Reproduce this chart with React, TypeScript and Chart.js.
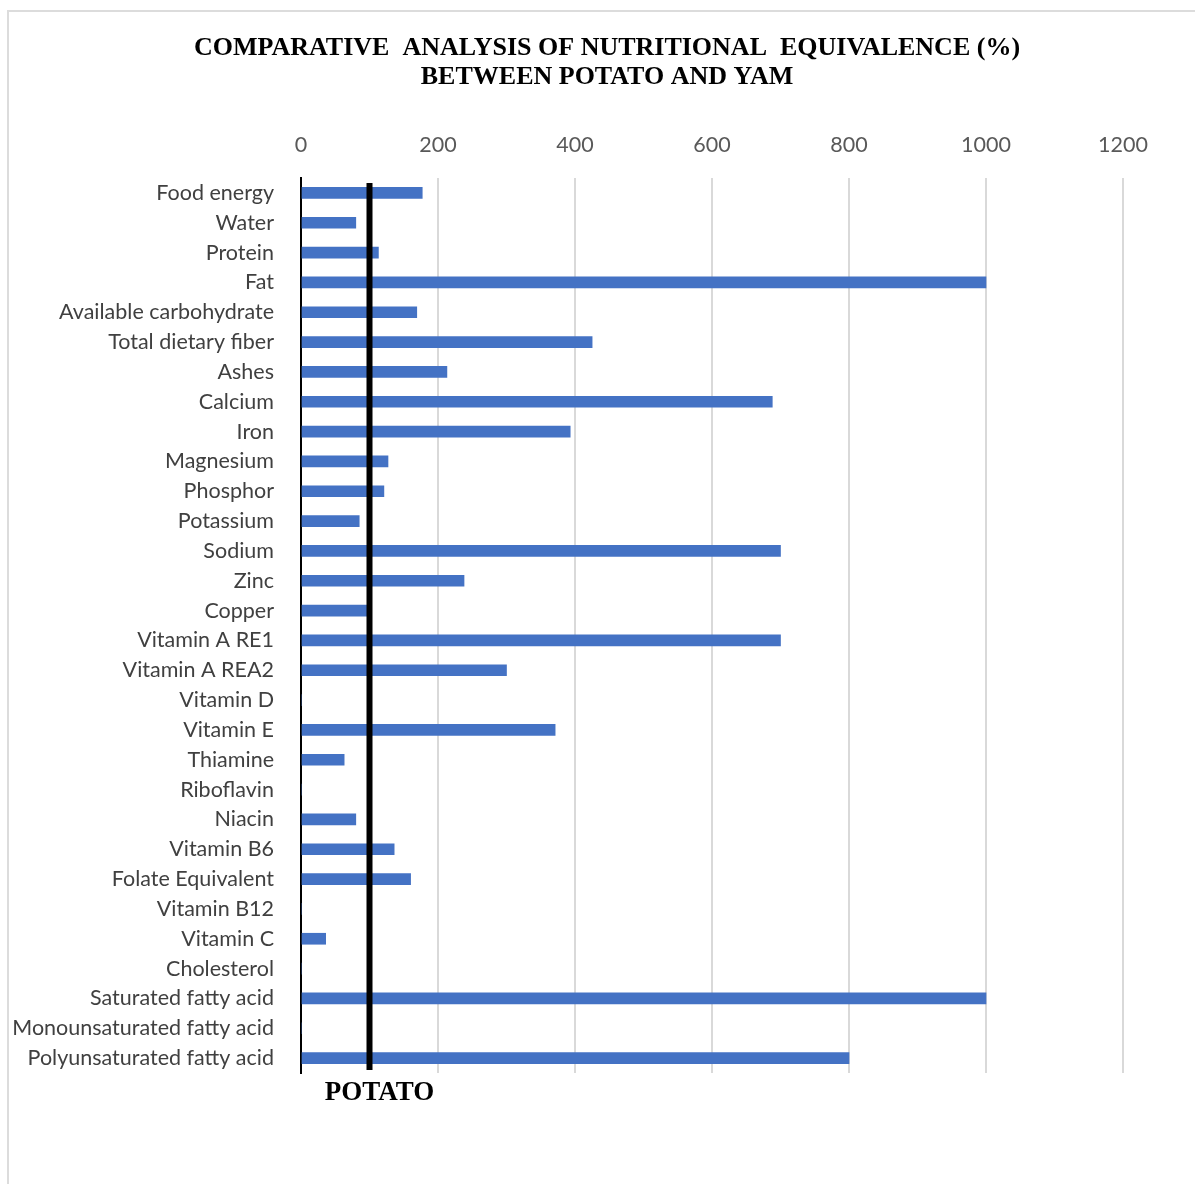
import React, { useEffect, useRef } from "react";
import { Chart, registerables } from "chart.js";

Chart.register(...registerables);

const categories: string[] = [
  "Food energy",
  "Water",
  "Protein",
  "Fat",
  "Available carbohydrate",
  "Total dietary fiber",
  "Ashes",
  "Calcium",
  "Iron",
  "Magnesium",
  "Phosphor",
  "Potassium",
  "Sodium",
  "Zinc",
  "Copper",
  "Vitamin A RE1",
  "Vitamin A REA2",
  "Vitamin D",
  "Vitamin E",
  "Thiamine",
  "Riboflavin",
  "Niacin",
  "Vitamin B6",
  "Folate Equivalent",
  "Vitamin B12",
  "Vitamin C",
  "Cholesterol",
  "Saturated fatty acid",
  "Monounsaturated fatty acid",
  "Polyunsaturated fatty acid",
];

const yamValues: number[] = [
  177, 80, 113, 1000, 169, 425, 213, 688, 393, 127,
  121, 85, 700, 238, 96, 700, 300, 0, 371, 63,
  0, 80, 136, 160, 0, 36, 0, 1000, 0, 800,
];

const potatoReference: number = 100;
const potatoLabel = "POTATO";
const titleLines: string[] = [
  "COMPARATIVE  ANALYSIS OF NUTRITIONAL  EQUIVALENCE (%)",
  "BETWEEN POTATO AND YAM",
];
const xMin = 0;
const xMax = 1200;
const xStep = 200;

const overlayPlugin = {
  id: "overlay",
  afterDatasetsDraw(chart: any) {
    const { ctx, chartArea, scales } = chart;
    const x = scales.x.getPixelForValue(potatoReference);
    ctx.save();
    ctx.strokeStyle = "#000000";
    ctx.lineWidth = 6;
    ctx.beginPath();
    ctx.moveTo(x, chartArea.top + 5);
    ctx.lineTo(x, chartArea.bottom - 3);
    ctx.stroke();
    ctx.restore();
  },
  afterDraw(chart: any) {
    const { ctx, chartArea, scales } = chart;
    ctx.save();
    ctx.fillStyle = "#000000";
    ctx.font = 'bold 26px "Liberation Serif", "Times New Roman", serif';
    ctx.textAlign = "center";
    ctx.textBaseline = "alphabetic";
    ctx.fillText(titleLines[0], 607, 55);
    ctx.fillText(titleLines[1], 607, 84);
    const x = scales.x.getPixelForValue(potatoReference);
    ctx.font = 'bold 27px "Liberation Serif", "Times New Roman", serif';
    ctx.fillText(potatoLabel, x + 10, chartArea.bottom + 27);
    ctx.restore();
  },
};

export default function App() {
  const canvasRef = useRef<HTMLCanvasElement | null>(null);

  useEffect(() => {
    if (!canvasRef.current) return;
    const chart = new Chart(canvasRef.current, {
      type: "bar",
      data: {
        labels: categories,
        datasets: [
          {
            label: "Yam",
            data: yamValues,
            backgroundColor: "#4472C4",
            borderWidth: 0,
            barThickness: 11,
          },
        ],
      },
      options: {
        indexAxis: "y",
        animation: false,
        responsive: false,
        maintainAspectRatio: false,
        layout: { padding: { left: 0, right: 72, top: 0, bottom: 111 } },
        plugins: {
          legend: { display: false },
          tooltip: { enabled: false },
          title: { display: false },
        },
        scales: {
          x: {
            position: "top",
            min: xMin,
            max: xMax,
            ticks: {
              stepSize: xStep,
              color: "#595959",
              padding: 20,
              font: { family: "Lato, 'Open Sans', sans-serif", size: 21.5 },
              callback: (v: any) => String(v),
            },
            grid: {
              color: (c: any) =>
                c.tick && c.tick.value === 0 ? "rgba(0,0,0,0)" : "#d9d9d9",
              lineWidth: 2,
              drawTicks: false,
            },
            border: { display: false },
            afterFit: (s: any) => {
              s.height = 178;
            },
          },
          y: {
            ticks: {
              color: "#404040",
              padding: 27,
              autoSkip: false,
              font: { family: "Lato, 'Open Sans', sans-serif", size: 21.5 },
            },
            grid: { display: false, drawTicks: false },
            border: { display: true, color: "#000000", width: 2 },
            afterFit: (s: any) => {
              s.width = 301;
            },
          },
        },
      } as any,
      plugins: [overlayPlugin],
    });
    return () => chart.destroy();
  }, []);

  return (
    <div
      style={{
        position: "absolute",
        left: 0,
        top: 0,
        width: 1195,
        height: 1184,
        background: "#ffffff",
        overflow: "hidden",
      }}
    >
      <div
        style={{
          position: "absolute",
          left: 7,
          top: 10,
          width: 1188,
          height: 1174,
          boxSizing: "border-box",
          borderLeft: "2px solid #dcdcdc",
          borderTop: "2px solid #dcdcdc",
        }}
      />
      <canvas
        ref={canvasRef}
        width={1195}
        height={1184}
        style={{ position: "absolute", left: 0, top: 0, display: "block" }}
      />
    </div>
  );
}
